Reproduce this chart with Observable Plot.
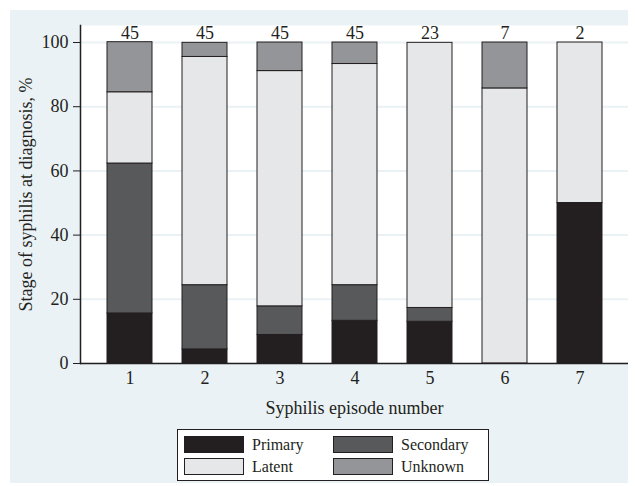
<!DOCTYPE html>
<html><head><meta charset="utf-8">
<script src="https://cdn.jsdelivr.net/npm/d3@7"></script>
<script src="https://cdn.jsdelivr.net/npm/@observablehq/plot@0.6"></script>
<style>
body{margin:0;background:#fff;}
#wrap{position:absolute;left:10px;top:10px;width:618px;height:473px;background:#eaf2f5;}
#chart{position:absolute;left:0;top:0;}
#chart svg, #chart svg text{font-family:"Liberation Serif",serif !important;}
#legend{position:absolute;left:167px;top:419px;width:310px;height:50px;border:1px solid #231f20;background:#fff;font-family:"Liberation Serif",serif;font-size:16px;color:#231f20;}
.item{position:absolute;display:flex;align-items:center;height:17px;}
.sw{width:58px;height:15px;border:1px solid #231f20;margin-right:8px;box-sizing:content-box;}
</style></head><body>
<div id="wrap"><div id="chart"></div><div id="legend"></div></div>
<script>
const episodes = ["1","2","3","4","5","6","7"];
const counts = [45, 45, 45, 45, 23, 7, 2];
const stages = ["Primary", "Secondary", "Latent", "Unknown"];
const primary   = [15.6, 4.4, 8.9, 13.3, 13.0, 0, 50];
const secondary = [46.7, 20.0, 8.9, 11.1, 4.3, 0, 0];
const latent    = [22.2, 71.1, 73.3, 68.9, 82.6, 85.7, 50];
const unknown   = [15.6, 4.4, 8.9, 6.7, 0, 14.3, 0];
const stageColors = ["#231f20", "#58595b", "#e6e7e8", "#939598"];
const yTicks = [0, 20, 40, 60, 80, 100];
const xTitle = "Syphilis episode number";
const yTitle = "Stage of syphilis at diagnosis, %";

const series = [primary, secondary, latent, unknown];
const rows = [];
episodes.forEach((ep, i) => {
  stages.forEach((st, j) => {
    if (series[j][i] > 0) rows.push({episode: ep, stage: st, pct: series[j][i]});
  });
});
const labels = episodes.map((ep, i) => ({episode: ep, n: counts[i], top: 100}));
const ff = "Liberation Serif";

const chart = Plot.plot({
  width: 618, height: 415,
  marginLeft: 70, marginRight: 0, marginTop: 15, marginBottom: 62,
  style: {background: "transparent", fontFamily: ff, fontSize: "18px", color: "#231f20"},
  x: {domain: episodes, paddingInner: 0.404, paddingOuter: 0.331},
  y: {domain: [0, 105.3]},
  color: {domain: stages, range: stageColors},
  marks: [
    Plot.frame({fill: "white", stroke: "none"}),
    Plot.gridY(yTicks, {stroke: "#eaf2f5", strokeOpacity: 1, strokeWidth: 2}),
    Plot.barY(rows, {x: "episode", y: "pct", fill: "stage", stroke: "#231f20", strokeWidth: 1}),
    Plot.text(labels, {x: "episode", y: "top", text: "n", dy: -9, fontSize: 18, fontFamily: ff, fill: "#231f20"}),
    Plot.ruleY([0], {stroke: "#231f20", strokeWidth: 1.5}),
    Plot.frame({anchor: "left", stroke: "#231f20", strokeWidth: 1.5}),
    Plot.axisY(yTicks, {tickSize: 7, tickPadding: 5, fontSize: 18, fontFamily: ff, label: yTitle, labelAnchor: "center", labelArrow: "none", labelOffset: 61}),
    Plot.axisX({tickSize: 0, tickPadding: 8, fontSize: 18, fontFamily: ff, label: xTitle, labelAnchor: "center", labelArrow: "none", labelOffset: 50})
  ]
});
document.getElementById("chart").appendChild(chart);

const legend = document.getElementById("legend");
const pos = [[6, 6], [155, 6], [6, 28], [155, 28]];
const legendOrder = ["Primary", "Secondary", "Latent", "Unknown"];
legendOrder.forEach((st, k) => {
  const d = document.createElement("div");
  d.className = "item";
  d.style.left = pos[k][0] + "px";
  d.style.top = pos[k][1] + "px";
  const sw = document.createElement("div");
  sw.className = "sw";
  sw.style.background = stageColors[stages.indexOf(st)];
  const t = document.createElement("span");
  t.textContent = st;
  d.appendChild(sw); d.appendChild(t);
  legend.appendChild(d);
});
</script>
</body></html>
